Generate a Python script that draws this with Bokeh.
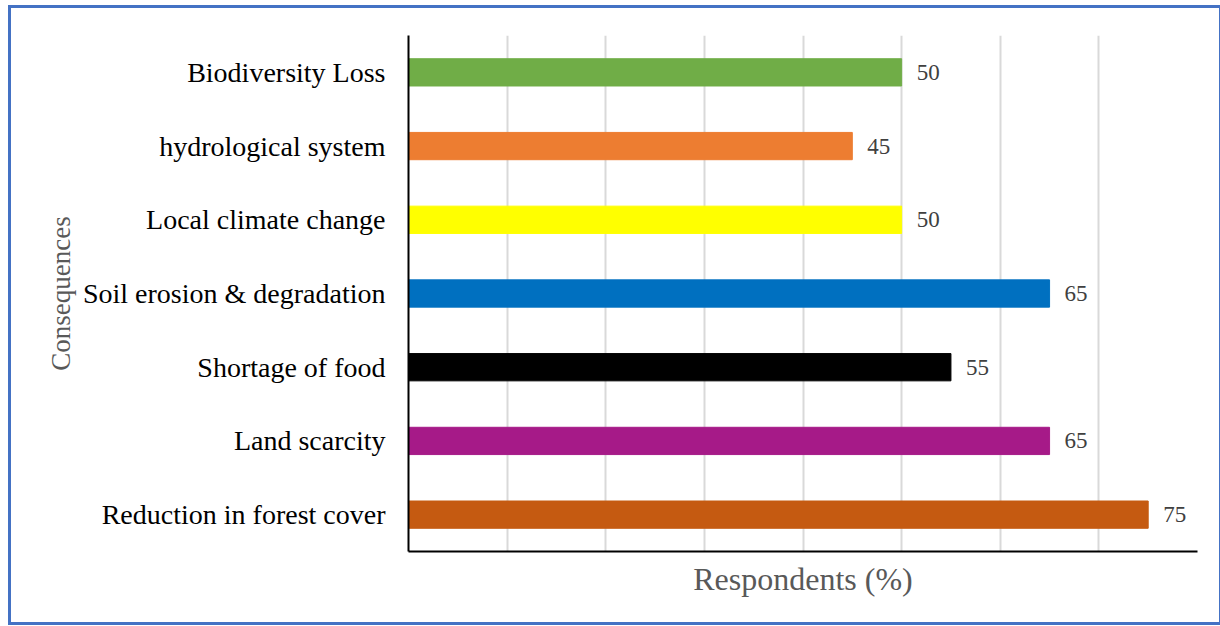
from bokeh.plotting import figure
from bokeh.models import (ColumnDataSource, FactorRange, Range1d, FixedTicker,
                          LabelSet)
from bokeh.embed import file_html
from bokeh.resources import INLINE

categories = ["Biodiversity Loss", "hydrological system", "Local climate change",
              "Soil erosion & degradation", "Shortage of food", "Land scarcity",
              "Reduction in forest cover"]
values = [50, 45, 50, 65, 55, 65, 75]
colors = ["#70AD47", "#ED7D31", "#FFFF00", "#0070C0", "#000000", "#A61A88", "#C55A11"]
grid_ticks = [10, 20, 30, 40, 50, 60, 70, 80]

FONT = "Times New Roman"

src = ColumnDataSource(dict(cat=categories, val=values, color=colors,
                            lab=[str(v) for v in values]))

p = figure(width=1214, height=620, output_backend="svg", toolbar_location=None,
           y_range=FactorRange(*reversed(categories)), x_range=Range1d(0, 80),
           min_border_left=397, min_border_right=28, min_border_top=27,
           min_border_bottom=77, margin=(5, 0, 0, 8))
p.styles = {"border": "3px solid #4472C4"}

p.hbar(y="cat", right="val", left=0, height=0.37, color="color", source=src)

labels = LabelSet(x="val", y="cat", text="lab", source=src, x_offset=15,
                  text_baseline="middle", text_font=FONT, text_font_size="23px",
                  text_color="#404040")
p.add_layout(labels)

p.outline_line_color = None
p.ygrid.grid_line_color = None
p.xgrid.ticker = FixedTicker(ticks=grid_ticks)
p.xgrid.grid_line_color = "#D9D9D9"
p.xgrid.grid_line_width = 2

p.xaxis.ticker = FixedTicker(ticks=[])
p.xaxis.axis_line_color = "black"
p.xaxis.axis_line_width = 2
p.xaxis.major_tick_line_color = None
p.xaxis.minor_tick_line_color = None
p.xaxis.axis_label = "Respondents (%)"
p.xaxis.axis_label_text_font = FONT
p.xaxis.axis_label_text_font_size = "32px"
p.xaxis.axis_label_text_font_style = "normal"
p.xaxis.axis_label_text_color = "#595959"
p.xaxis.axis_label_standoff = 9

p.yaxis.axis_line_color = "black"
p.yaxis.axis_line_width = 2
p.yaxis.major_tick_line_color = None
p.yaxis.minor_tick_line_color = None
p.yaxis.major_label_text_font = FONT
p.yaxis.major_label_text_font_size = "28px"
p.yaxis.major_label_text_color = "black"
p.yaxis.major_label_standoff = 17
p.yaxis.axis_label = "Consequences"
p.yaxis.axis_label_text_font = FONT
p.yaxis.axis_label_text_font_size = "27px"
p.yaxis.axis_label_text_font_style = "normal"
p.yaxis.axis_label_text_color = "#595959"
p.yaxis.axis_label_standoff = 4

open("out.html", "w").write(file_html(p, INLINE))
